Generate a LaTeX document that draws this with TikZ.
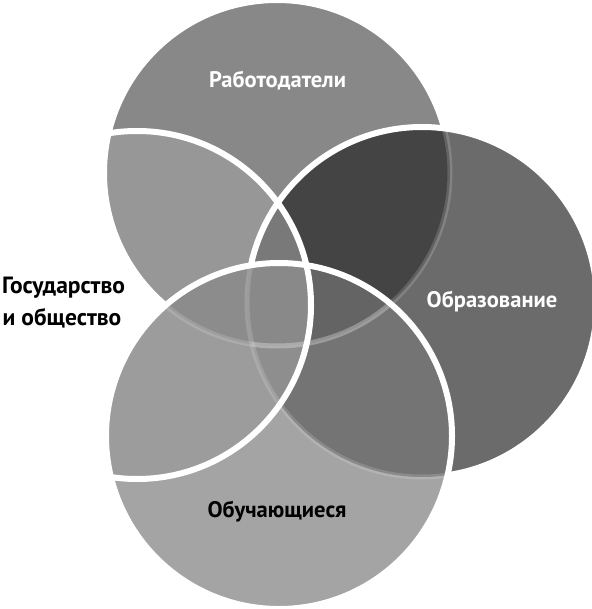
\documentclass[tikz,border=0pt]{standalone}
\usepackage{fontspec}
\setmainfont{PT Sans}
\definecolor{gT}{RGB}{136,136,136}
\definecolor{gR}{RGB}{107,107,107}
\definecolor{gB}{RGB}{164,164,164}
\definecolor{gTR}{RGB}{68,68,68}
\definecolor{gTB}{RGB}{112,112,112}
\definecolor{gRB}{RGB}{116,116,116}
\definecolor{gTL}{RGB}{151,151,151}
\definecolor{gRL}{RGB}{138,138,138}
\definecolor{gBL}{RGB}{156,156,156}
\definecolor{gTRB}{RGB}{100,100,100}
\definecolor{gTRL}{RGB}{121,121,121}
\definecolor{gTBL}{RGB}{140,140,140}
\definecolor{gRBL}{RGB}{142,142,142}
\definecolor{gTRBL}{RGB}{137,137,137}
\tikzset{
  outline/.style={draw=white, line width=6pt},
  faint/.style={draw=white, draw opacity=0.16, line width=5pt},
  lblw/.style={font=\bfseries\fontsize{22.5}{27}\selectfont, text=white, anchor=base, inner sep=0pt},
  lblb/.style={font=\bfseries\fontsize{22.5}{27}\selectfont, text=black, anchor=base, inner sep=0pt},
}
\begin{document}
\begin{tikzpicture}[x=1pt,y=1pt]
\useasboundingbox (0,0) rectangle (591,-609);
\def\cT{(277,-173) circle[radius=173]}
\def\cR{(422,-302) circle[radius=175]}
\def\cB{(279,-436) circle[radius=173]}
\def\cL{(137,-305) circle[radius=174]}
\def\bigrect{(-10,10) rectangle (601,-619)}
% single regions
\fill[gT] \cT;
\fill[gR] \cR;
\fill[gB] \cB;
% pairs
\begin{scope}\clip \cT; \fill[gTR] \cR; \fill[gTB] \cB; \fill[gTL] \cL; \end{scope}
\begin{scope}\clip \cR; \fill[gRB] \cB; \fill[gRL] \cL; \end{scope}
\begin{scope}\clip \cB; \fill[gBL] \cL; \end{scope}
% triples
\begin{scope}\clip \cT; \clip \cR; \fill[gTRB] \cB; \fill[gTRL] \cL; \end{scope}
\begin{scope}\clip \cT; \clip \cB; \fill[gTBL] \cL; \end{scope}
\begin{scope}\clip \cR; \clip \cB; \fill[gRBL] \cL; \end{scope}
% all four
\begin{scope}\clip \cT; \clip \cR; \clip \cB; \fill[gTRBL] \cL; \end{scope}
% faint edges seen through the upper circles
\begin{scope}\clip \cR; \draw[faint] \cT; \end{scope}
\begin{scope}\clip \cB; \draw[faint] \cT; \draw[faint] \cR; \end{scope}
% white outlines
\begin{scope}[even odd rule]
  \clip \bigrect \cR;
  \clip \bigrect \cB;
  \draw[outline] \cT;
\end{scope}
\begin{scope}[even odd rule]
  \clip \bigrect \cB;
  \draw[outline] \cR;
\end{scope}
\draw[outline] \cB;
\draw[outline] \cL;
% labels
\node[lblw] (emp) at (277.5,-88) {Работодатели};
\node[lblw] (edu) at (492,-307) {Образование};
\node[lblb] (stu) at (277,-517) {Обучающиеся};
\node[lblb, font=\bfseries\fontsize{23.5}{28}\selectfont] (gov1) at (63.5,-293) {Государство};
\node[lblb, font=\bfseries\fontsize{23.5}{28}\selectfont] (gov2) at (62,-325) {и общество};
\end{tikzpicture}
\end{document}
